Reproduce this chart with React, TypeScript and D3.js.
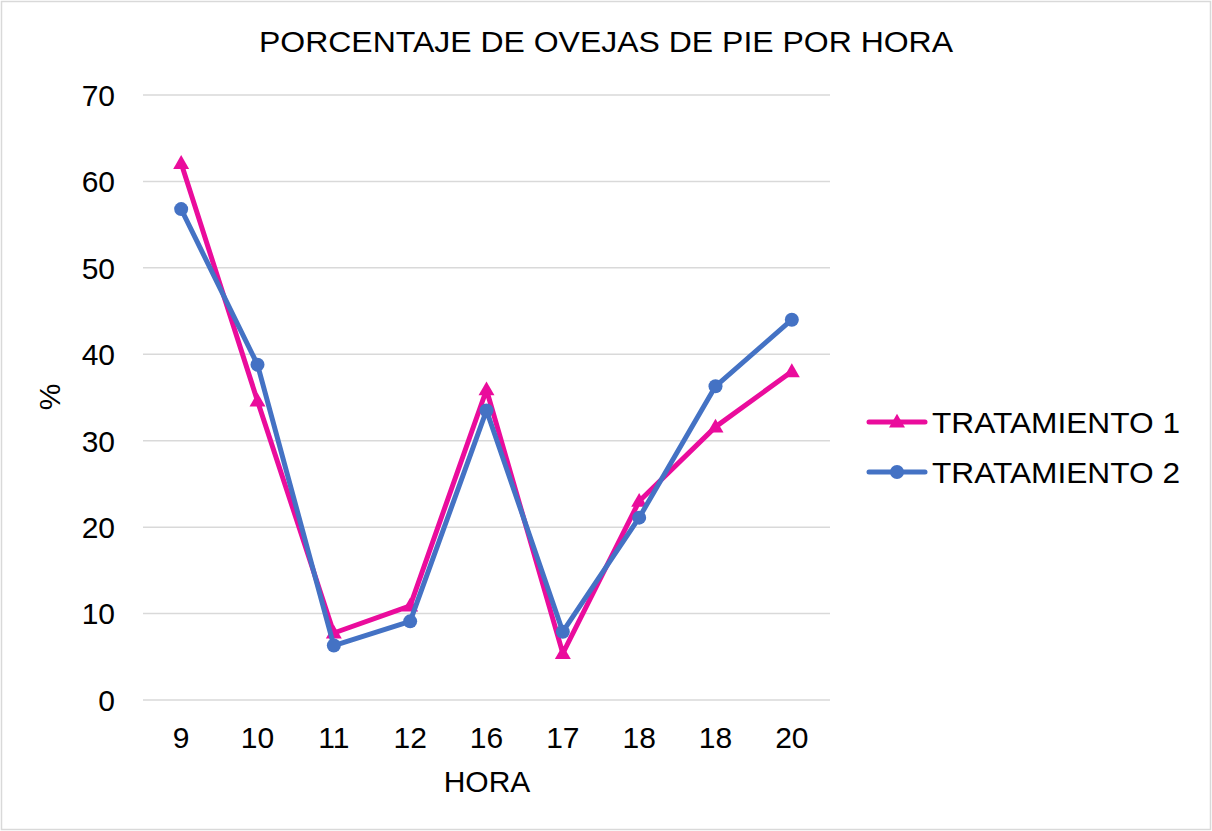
import React from "react";
import * as d3 from "d3";

const categories = ["9", "10", "11", "12", "16", "17", "18", "18", "20"];
const tratamiento1 = [62.1, 34.6, 7.75, 10.9, 35.9, 5.4, 23.0, 31.6, 38.0];
const tratamiento2 = [56.8, 38.8, 6.3, 9.1, 33.5, 7.9, 21.1, 36.3, 44.0];
const yTicks = [0, 10, 20, 30, 40, 50, 60, 70];
const seriesNames = ["TRATAMIENTO 1", "TRATAMIENTO 2"];
const title = "PORCENTAJE DE OVEJAS DE PIE POR HORA";

const W = 1212;
const H = 831;
const PINK = "#EA0C9C";
const BLUE = "#4472C4";
const FONT = "'Liberation Sans', Arial, sans-serif";

export default function App() {
  React.useEffect(() => {
    document.body.style.margin = "0";
  }, []);

  const x = d3
    .scaleBand<number>()
    .domain(categories.map((_, i) => i))
    .range([143, 830]);
  const y = d3.scaleLinear().domain([0, 70]).range([700, 95]);
  const cx = (i: number) => (x(i) as number) + x.bandwidth() / 2;

  const line = d3
    .line<number>()
    .x((_, i) => cx(i))
    .y((d) => y(d));

  const tri = d3.symbol().type(d3.symbolTriangle).size(110)();
  const series = [
    { name: seriesNames[0], data: tratamiento1, color: PINK, marker: "tri" },
    { name: seriesNames[1], data: tratamiento2, color: BLUE, marker: "circle" },
  ];

  const marker = (m: string, color: string, px: number, py: number, key: any) =>
    m === "tri" ? (
      <path key={key} d={tri as string} transform={`translate(${px},${py + 1})`} fill={color} />
    ) : (
      <circle key={key} cx={px} cy={py} r={7} fill={color} />
    );

  return (
    <svg
      width={W}
      height={H}
      style={{ position: "absolute", left: 0, top: 0, background: "#fff" }}
      fontFamily={FONT}
    >
      <rect x={0} y={0} width={W} height={H} fill="#fff" />
      <rect x={1.5} y={1.5} width={W - 3} height={H - 3} fill="none" stroke="#D9D9D9" strokeWidth={1.5} />

      <text
        x={606}
        y={52}
        textAnchor="middle"
        fontSize={30}
        fill="#000"
        textLength={694}
        lengthAdjust="spacingAndGlyphs"
      >
        {title}
      </text>

      {yTicks.map((t) => (
        <g key={t}>
          <line x1={143} x2={830} y1={y(t)} y2={y(t)} stroke="#D9D9D9" strokeWidth={1.5} />
          <text x={115} y={y(t)} dy="0.36em" textAnchor="end" fontSize={30} fill="#000">
            {t}
          </text>
        </g>
      ))}

      {categories.map((c, i) => (
        <text key={i} x={cx(i)} y={748} textAnchor="middle" fontSize={30} fill="#000">
          {c}
        </text>
      ))}

      <text x={487} y={792} textAnchor="middle" fontSize={30} fill="#000">
        HORA
      </text>
      <text
        transform={`translate(${60},${397}) rotate(-90)`}
        textAnchor="middle"
        fontSize={30}
        fill="#000"
      >
        %
      </text>

      {series.map((s) => (
        <g key={s.name}>
          <path
            d={line(s.data) as string}
            fill="none"
            stroke={s.color}
            strokeWidth={5}
            strokeLinejoin="round"
            strokeLinecap="round"
          />
          {s.data.map((v, i) => marker(s.marker, s.color, cx(i), y(v), i))}
        </g>
      ))}

      {series.map((s, k) => {
        const ly = 422 + k * 50;
        return (
          <g key={"lg" + k}>
            <line x1={869} x2={925} y1={ly} y2={ly} stroke={s.color} strokeWidth={5} strokeLinecap="round" />
            {marker(s.marker, s.color, 897, ly, "m")}
            <text
              x={932}
              y={ly + 11}
              fontSize={29}
              fill="#000"
              textLength={248}
              lengthAdjust="spacingAndGlyphs"
            >
              {s.name}
            </text>
          </g>
        );
      })}
    </svg>
  );
}
